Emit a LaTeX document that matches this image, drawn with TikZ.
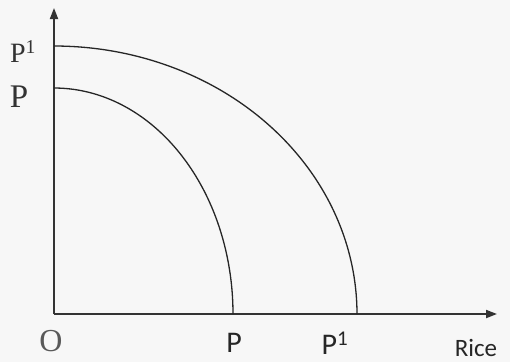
\documentclass[tikz,border=0pt]{standalone}
\usepackage{fontspec}
\setmainfont{Carlito}
\newfontfamily\serifface{Liberation Serif}
\usetikzlibrary{arrows.meta}
\begin{document}
\begin{tikzpicture}[x=1pt,y=-1pt,
  axisline/.style={draw=black!80, line width=1.9pt, -{Triangle[length=11pt,width=8pt]}},
  curveline/.style={draw=black!85, line width=1.3pt},
  lbl/.style={inner sep=0pt, text=black!85, font=\fontsize{30}{30}\selectfont},
  slbl/.style={inner sep=0pt, text=black!80, font=\serifface\fontsize{28}{28}\selectfont}]
\fill[black!3] (0,0) rectangle (510,362);
\useasboundingbox (0,0) rectangle (510,362);
\coordinate (O) at (54,314);
\coordinate (ytop) at (54,8);
\coordinate (xend) at (497,314);
\draw[axisline] (O) -- (ytop);
\draw[axisline] (O) -- (xend);
\draw[curveline] plot[domain=90:0, samples=80, smooth] ({54+303*cos(\x)},{314-268*sin(\x)});
\draw[curveline] plot[domain=90:0, samples=80, smooth] ({54+179*cos(\x)},{314-226*sin(\x)});
\node[slbl] (p1y) at (23,52) {P\textsuperscript{1}};
\node[slbl, font=\serifface\fontsize{33}{33}\selectfont] (py) at (19,97) {P};
\node[slbl, text=black!65, font=\serifface\fontsize{32}{32}\selectfont] (o) at (51,341) {O};
\node[lbl] (px) at (234,343) {P};
\node[lbl] (p1x) at (335,343) {P\textsuperscript{1}};
\node[lbl, font=\fontsize{25}{25}\selectfont] (rice) at (476,348) {Rice};
\end{tikzpicture}
\end{document}
